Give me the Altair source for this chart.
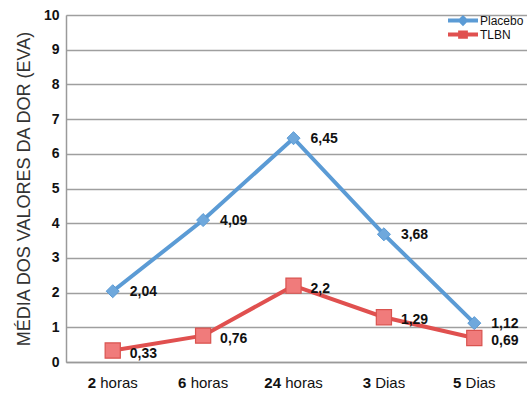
import altair as alt
import pandas as pd

categories = ["2 horas", "6 horas", "24 horas", "3 Dias", "5 Dias"]
cat_numbers = ["2", "6", "24", "3", "5"]
cat_words = ["horas", "horas", "horas", "Dias", "Dias"]
series_names = ["Placebo", "TLBN"]
placebo = [2.04, 4.09, 6.45, 3.68, 1.12]
tlbn = [0.33, 0.76, 2.2, 1.29, 0.69]
y_ticks = list(range(0, 11))

BLUE = "#5b9bd5"
RED = "#e0504f"
FONT = "Liberation Sans"

rows = []
for s, vals in zip(series_names, [placebo, tlbn]):
    for c, v in zip(categories, vals):
        rows.append({"cat": c, "series": s, "v": v, "lab": str(v).replace(".", ",")})
df = pd.DataFrame(rows)

W, H = 461, 347

xsc = alt.Scale(type="point", domain=categories, padding=0.55, align=0.47)
ysc = alt.Scale(domain=[0, 10], nice=False)

x = alt.X("cat:N", scale=xsc, sort=categories,
          axis=alt.Axis(labels=False, ticks=False, title=None, domainColor="#9a9a9a", domainWidth=1.5))
y = alt.Y("v:Q", scale=ysc,
          axis=alt.Axis(values=y_ticks, title="MÉDIA DOS VALORES DA DOR (EVA)", titleFontSize=18,
                        titleFont=FONT, titleFontWeight="normal", titleColor="#333333", titlePadding=10,
                        labelFont=FONT, labelFontSize=14, labelFontWeight="bold", labelColor="#111111",
                        labelPadding=7, ticks=False, grid=True, gridColor="#9f9f9f", gridWidth=1.5,
                        domainColor="#9a9a9a", domainWidth=1.5))

base = alt.Chart(df)
flt_p = "datum.series === 'Placebo'"
flt_t = "datum.series === 'TLBN'"
line_p = base.transform_filter(flt_p).mark_line(strokeWidth=4, color=BLUE).encode(x=x, y=y)
line_t = base.transform_filter(flt_t).mark_line(strokeWidth=4, color=RED).encode(x=x, y=y)
pts_p = base.transform_filter(flt_p).mark_point(
    shape="diamond", filled=True, size=170, color="#6fa8dc", stroke=BLUE, strokeWidth=1, opacity=1
).encode(x=x, y=y)
pts_t = base.transform_filter(flt_t).mark_point(
    shape="square", filled=True, size=230, color="#f07b7b", stroke="#d9534f", strokeWidth=1.2, opacity=1
).encode(x=x, y=y)
lab_kw = dict(align="left", baseline="middle", font=FONT, fontSize=14,
              fontWeight="bold", color="#111111")
labels_p = base.transform_filter(flt_p).mark_text(dx=17, dy=1, **lab_kw).encode(x=x, y=y, text="lab:N")
labels_t = base.transform_filter(flt_t).mark_text(dx=17, dy=3, **lab_kw).encode(x=x, y=y, text="lab:N")

legend_paths = ["M-3,-0.27H1V0.27H-3Z M-1,-0.75L-0.25,0L-1,0.75L-1.75,0Z",
                "M-3,-0.27H1V0.27H-3Z M-1.65,-0.55H-0.35V0.55H-1.65Z"]
leg = alt.Legend(title=None, orient="none", legendX=397, legendY=-2,
                 labelFont=FONT, labelFontSize=12, labelColor="#111111", labelOffset=2,
                 symbolSize=225, symbolOpacity=1, symbolStrokeWidth=0, rowPadding=0, padding=0)
legend_layer = base.mark_point(filled=True, opacity=0).encode(
    x=x, y=y,
    color=alt.Color("series:N", scale=alt.Scale(domain=series_names, range=[BLUE, RED]), legend=leg),
    shape=alt.Shape("series:N", scale=alt.Scale(domain=series_names, range=legend_paths), legend=leg),
)

def tw(s):
    widths = {"h": 8.34, "o": 8.34, "r": 5.0, "a": 8.34, "s": 7.5, "D": 10.83, "i": 3.33}
    return sum(widths.get(ch, 8.34) for ch in s)

xl_layers = []
for c, n, wd in zip(categories, cat_numbers, cat_words):
    nw, ww = tw(n), tw(wd)
    total = nw + 4.2 + ww
    start = -total / 2
    d = pd.DataFrame({"cat": [c], "num": [n], "word": [wd]})
    xb = alt.X("cat:N", scale=xsc, sort=categories)
    xl_layers.append(alt.Chart(d).mark_text(align="left", baseline="middle", dx=start, font=FONT,
                                            fontSize=15, fontWeight="bold", color="#111111")
                     .encode(x=xb, y=alt.value(H + 21), text="num:N"))
    xl_layers.append(alt.Chart(d).mark_text(align="left", baseline="middle", dx=start + nw + 4.2, font=FONT,
                                            fontSize=15, fontWeight="normal", color="#111111")
                     .encode(x=xb, y=alt.value(H + 21), text="word:N"))

chart = alt.layer(line_p, line_t, pts_p, pts_t, labels_p, labels_t, legend_layer, *xl_layers).properties(
    width=W, height=H,
    autosize=alt.AutoSizeParams(type="none"),
    padding={"left": 66, "top": 15, "right": 0, "bottom": 37},
).configure_view(stroke=None).configure(background="white")

chart.save("out.html", embed_options={"renderer": "svg", "actions": False})
